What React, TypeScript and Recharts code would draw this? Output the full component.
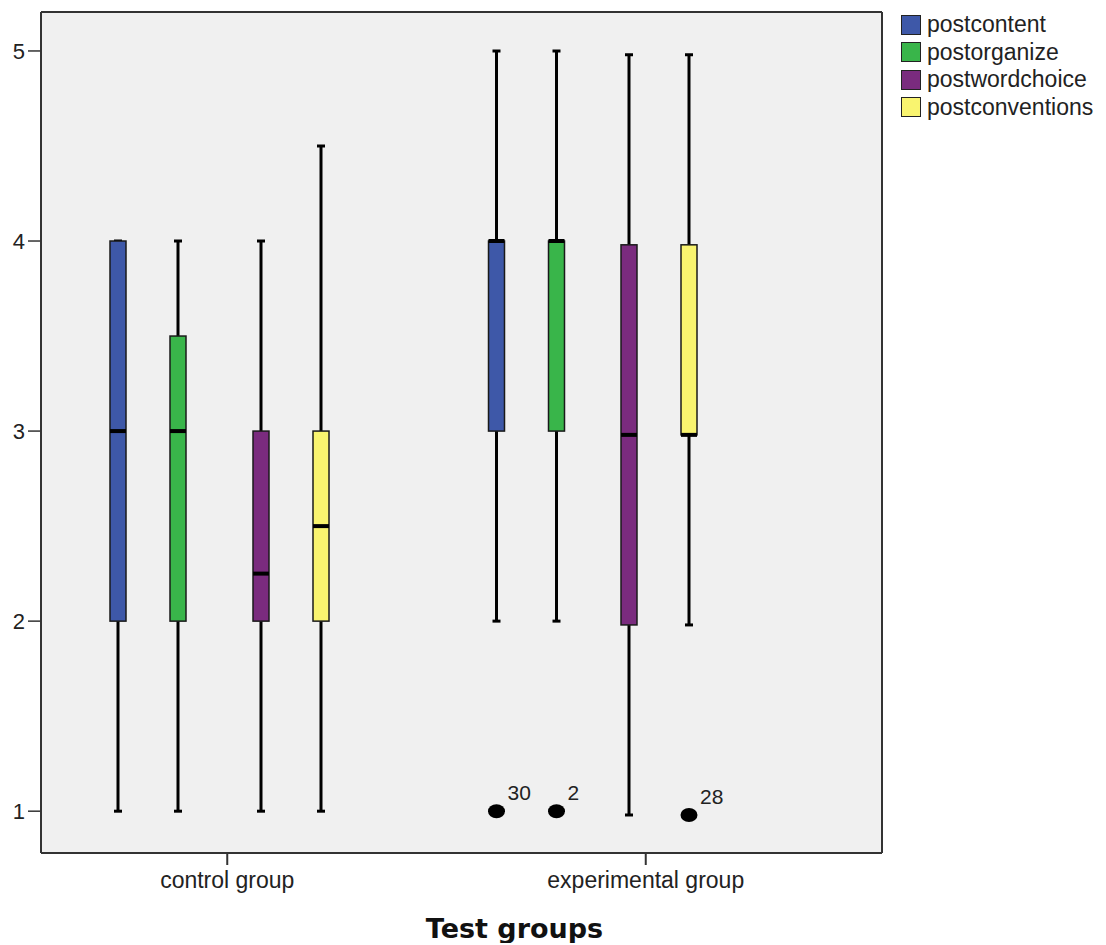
import React from "react";
import { ComposedChart, Bar, XAxis, YAxis, CartesianGrid, Legend } from "recharts";

const groups = ["control group", "experimental group"];
const seriesNames = ["postcontent", "postorganize", "postwordchoice", "postconventions"];
const seriesColors = ["#3e58a8", "#39b54a", "#7a2b7e", "#f9f46f"];

// five-number summaries per group: [min, q1, median, q3, max]
const postcontent = [[1, 2, 3, 4, 4], [2, 3, 4, 4, 5]];
const postorganize = [[1, 2, 3, 3.5, 4], [2, 3, 4, 4, 5]];
const postwordchoice = [[1, 2, 2.25, 3, 4], [0.98, 1.98, 2.98, 3.98, 4.98]];
const postconventions = [[1, 2, 2.5, 3, 4.5], [1.98, 2.98, 2.98, 3.98, 4.98]];
const summaries = [postcontent, postorganize, postwordchoice, postconventions];

const outlierGroup = ["experimental group", "experimental group", "experimental group"];
const outlierSeries = ["postcontent", "postorganize", "postconventions"];
const outlierValues = [1, 1, 0.98];
const outlierLabels = ["30", "2", "28"];

const yTicks = [1, 2, 3, 4, 5];
const yDomain = [0.78, 5.205];

const FONT = "'Liberation Sans', Arial, sans-serif";
const AXIS = "#333";

const data = groups.map((g, gi) => {
    const row: any = { group: g };
    seriesNames.forEach((s, si) => {
        const five = summaries[si][gi];
        const outs = outlierValues.filter(
            (_, k) => outlierGroup[k] === g && outlierSeries[k] === s
        );
        row[s] = [Math.min(five[0], ...outs), five[4]];
    });
    return row;
});

const makeBoxShape = (si: number) => (props: any) => {
    const { x, y, width, height, payload } = props;
    const gi = groups.indexOf(payload.group);
    const [lo, hi] = payload[seriesNames[si]];
    const top = Math.min(y, y + height);
    const bottom = Math.max(y, y + height);
    const py = (v: number) => top + ((hi - v) / (hi - lo)) * (bottom - top);
    const [min, q1, med, q3, max] = summaries[si][gi];
    const cx = x + width / 2;
    const outs = outlierValues
        .map((v, k) => ({ v, label: outlierLabels[k], k }))
        .filter(({ k }) => outlierGroup[k] === payload.group && outlierSeries[k] === seriesNames[si]);
    return (
        <g>
            <line x1={cx} x2={cx} y1={py(max)} y2={py(q3)} stroke="#000" strokeWidth={3} />
            <line x1={cx} x2={cx} y1={py(q1)} y2={py(min)} stroke="#000" strokeWidth={3} />
            <line x1={cx - 4} x2={cx + 4} y1={py(max)} y2={py(max)} stroke="#000" strokeWidth={3} />
            <line x1={cx - 4} x2={cx + 4} y1={py(min)} y2={py(min)} stroke="#000" strokeWidth={3} />
            <rect
                x={x}
                y={py(q3)}
                width={width}
                height={py(q1) - py(q3)}
                fill={seriesColors[si]}
                stroke="#1a1a1a"
                strokeWidth={1.5}
            />
            <line x1={x} x2={x + width} y1={py(med)} y2={py(med)} stroke="#000" strokeWidth={4} />
            {outs.map((o) => (
                <g key={o.k}>
                    <ellipse cx={cx} cy={py(o.v)} rx={8.5} ry={7} fill="#000" />
                    <text
                        x={cx + 11}
                        y={py(o.v) - 11}
                        fontSize={21}
                        fontFamily={FONT}
                        fill="#222"
                    >
                        {o.label}
                    </text>
                </g>
            ))}
        </g>
    );
};

const LegendBox = () => (
    <div style={{ fontFamily: FONT, fontSize: 23, color: "#222" }}>
        {seriesNames.map((s, i) => (
            <div key={s} style={{ display: "flex", alignItems: "center", height: 27.5 }}>
                <span
                    style={{
                        width: 18,
                        height: 18,
                        marginRight: 6,
                        background: seriesColors[i],
                        border: "1.5px solid #222",
                        display: "inline-block",
                    }}
                />
                <span>{s}</span>
            </div>
        ))}
    </div>
);

export default function App() {
    return (
        <ComposedChart
            width={1090}
            height={935}
            data={data}
            margin={{ top: 3, right: 215, bottom: 0, left: 0 }}
            barGap={44}
        >
            <CartesianGrid fill="#f0f0f0" horizontal={false} vertical={false} />
            <XAxis
                dataKey="group"
                type="category"
                height={90}
                padding={{ left: -23, right: 27 }}
                stroke={AXIS}
                axisLine={{ stroke: AXIS, strokeWidth: 2 }}
                tickLine={{ stroke: AXIS, strokeWidth: 2 }}
                tickSize={12}
                tickMargin={7}
                tick={{ fill: "#222", fontSize: 23, fontFamily: FONT }}
                label={{
                    value: "Test groups",
                    position: "insideBottom",
                    offset: 5,
                    dx: 53,
                    fill: "#111",
                    fontSize: 27,
                    fontWeight: "bold",
                    fontFamily: "'DejaVu Sans', Verdana, sans-serif",
                }}
            />
            <XAxis xAxisId="a" dataKey="group" type="category" hide padding={{ left: -82, right: 166 }} />
            <XAxis xAxisId="b" dataKey="group" type="category" hide padding={{ left: 66, right: 39 }} />
            <XAxis
                xAxisId="top"
                orientation="top"
                dataKey="group"
                height={1}
                tick={false}
                tickLine={false}
                axisLine={{ stroke: AXIS, strokeWidth: 2 }}
            />
            <YAxis
                type="number"
                domain={yDomain}
                ticks={yTicks}
                allowDataOverflow
                width={33}
                tickSize={13}
                tickMargin={3}
                axisLine={{ stroke: AXIS, strokeWidth: 2 }}
                tickLine={{ stroke: AXIS, strokeWidth: 1.5 }}
                tick={{ fill: "#222", fontSize: 22, fontFamily: FONT }}
            />
            <YAxis
                yAxisId="right"
                orientation="right"
                type="number"
                domain={yDomain}
                width={1}
                tick={false}
                tickLine={false}
                axisLine={{ stroke: AXIS, strokeWidth: 2 }}
            />
            <Legend
                layout="vertical"
                align="center"
                verticalAlign="middle"
                wrapperStyle={{ left: 893, top: 3, width: 200 }}
                content={() => <LegendBox />}
            />
            {seriesNames.map((s, si) => (
                <Bar
                    key={s}
                    xAxisId={si < 2 ? "a" : "b"}
                    dataKey={s}
                    name={s}
                    fill={seriesColors[si]}
                    barSize={16}
                    shape={makeBoxShape(si)}
                    isAnimationActive={false}
                />
            ))}
        </ComposedChart>
    );
}
